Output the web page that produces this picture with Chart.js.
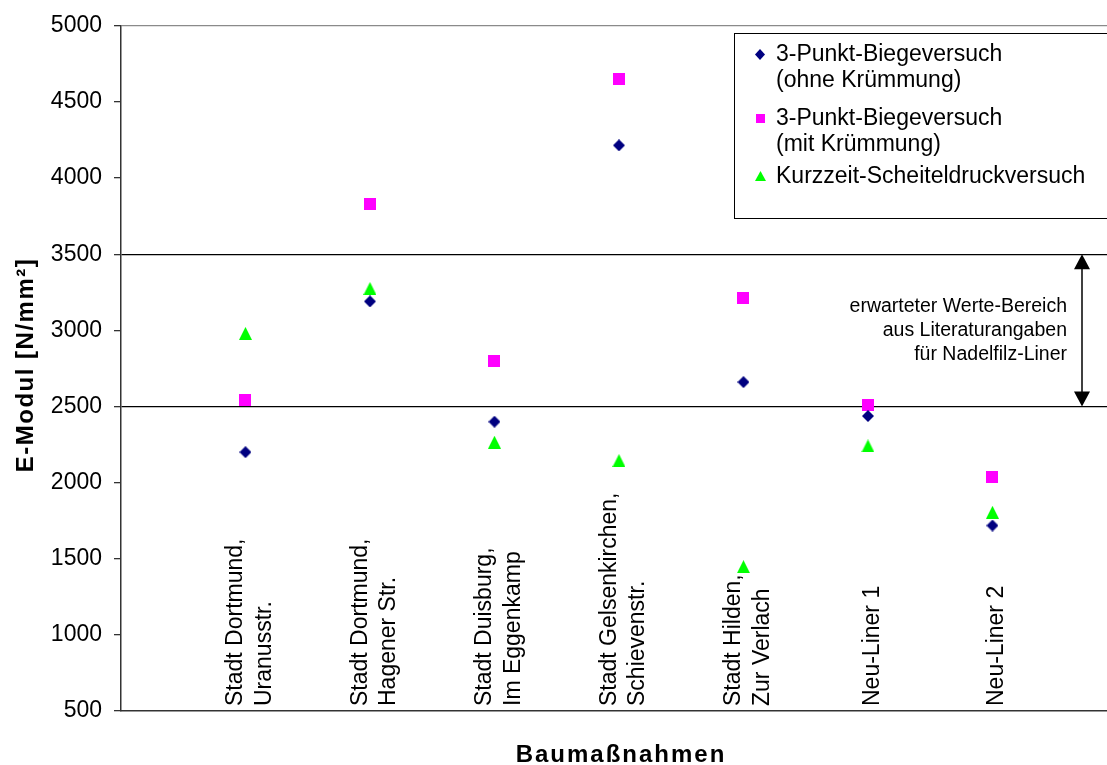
<!DOCTYPE html>
<html>
<head>
<meta charset="utf-8">
<script src="https://cdn.jsdelivr.net/npm/chart.js@4"></script>
<style>
  html, body { margin: 0; padding: 0; background: #fff; overflow: hidden; }
  canvas { display: block; }
</style>
</head>
<body>
<canvas id="chart" width="1107" height="765"></canvas>
<script>
// Construction sites (Baumaßnahmen), each label split into lines
const categories = [
  ['Stadt Dortmund,', 'Uranusstr.'],
  ['Stadt Dortmund,', 'Hagener Str.'],
  ['Stadt Duisburg,', 'Im Eggenkamp'],
  ['Stadt Gelsenkirchen,', 'Schievenstr.'],
  ['Stadt Hilden,', 'Zur Verlach'],
  ['Neu-Liner 1'],
  ['Neu-Liner 2']
];

// Series names (legend, multi-line)
const seriesNames = [
  ['3-Punkt-Biegeversuch', '(ohne Krümmung)'],
  ['3-Punkt-Biegeversuch', '(mit Krümmung)'],
  ['Kurzzeit-Scheiteldruckversuch']
];

// E-Modul values in N/mm²
const biegeOhneKruemmung = [2200, 3190, 2400, 4215, 2660, 2437, 1718];
const biegeMitKruemmung  = [2540, 3830, 2800, 4650, 3210, 2512, 2037];
const scheiteldruck      = [2980, 3275, 2265, 2145, 1448, 2241, 1805];

// Value axis
const yMin = 500;
const yMax = 5000;
const yStep = 500;

// Expected range from literature for needle-felt liners
const expectedRange = [2500, 3500];
const rangeNote = ['erwarteter Werte-Bereich', 'aus Literaturangaben', 'für Nadelfilz-Liner'];

const xTitle = 'Baumaßnahmen';
const yTitle = 'E-Modul [N/mm²]';

const FONT = '"Liberation Sans", Arial, Helvetica, sans-serif';

// Marker images, centred on their bounding box
function marker(shape, color, w, h) {
  const c = document.createElement('canvas');
  c.width = w; c.height = h;
  const g = c.getContext('2d');
  g.fillStyle = color;
  g.beginPath();
  if (shape === 'diamond') {
    g.moveTo(w / 2, 0); g.lineTo(w, h / 2); g.lineTo(w / 2, h); g.lineTo(0, h / 2);
  } else if (shape === 'square') {
    g.rect(0, 0, w, h);
  } else {
    g.moveTo(w / 2, 0); g.lineTo(w, h); g.lineTo(0, h);
  }
  g.closePath();
  g.fill();
  return c;
}

const NAVY = '#000080', MAGENTA = '#FF00FF', GREEN = '#00FF00';
const plotMarkers = [
  marker('diamond', NAVY, 12, 12),
  marker('square', MAGENTA, 12, 12),
  marker('triangle', GREEN, 13, 13)
];
const legendMarkers = [
  marker('diamond', NAVY, 10, 11),
  marker('square', MAGENTA, 9, 9),
  marker('triangle', GREEN, 11, 10)
];

const seriesValues = [biegeOhneKruemmung, biegeMitKruemmung, scheiteldruck];
const datasets = seriesValues.map((vals, s) => ({
  label: seriesNames[s].join(' '),
  data: vals.map((v, i) => ({ x: i + 1, y: v })),
  pointStyle: plotMarkers[s],
  pointRadius: 6,
  pointHoverRadius: 6,
  showLine: false,
  backgroundColor: [NAVY, MAGENTA, GREEN][s],
  borderColor: [NAVY, MAGENTA, GREEN][s]
}));

function gridColor(value) {
  if (expectedRange.includes(value)) return '#000';
  if (value === yMax) return '#8a8a8a';
  return 'rgba(0,0,0,0)';
}

const decorations = {
  id: 'decorations',
  beforeDatasetsDraw(chart) {
    const { ctx, scales: { x, y } } = chart;
    ctx.save();
    ctx.fillStyle = '#000';

    // vertical category labels standing on the x axis
    ctx.font = '23px ' + FONT;
    ctx.textAlign = 'left';
    ctx.textBaseline = 'alphabetic';
    const pitch = 28.3;
    categories.forEach((lines, i) => {
      const cx = x.getPixelForValue(i + 1);
      ctx.save();
      ctx.translate(cx, chart.chartArea.bottom - 5);
      ctx.rotate(-Math.PI / 2);
      lines.forEach((t, j) => {
        ctx.fillText(t, 0, 11 + (j - (lines.length - 1) / 2) * pitch);
      });
      ctx.restore();
    });

    // double arrow marking the expected range
    const top = y.getPixelForValue(expectedRange[1]);
    const bot = y.getPixelForValue(expectedRange[0]);
    const ax = 1082;
    const headH = 15, headW = 8;
    ctx.strokeStyle = '#000';
    ctx.lineWidth = 1.5;
    ctx.beginPath();
    ctx.moveTo(ax, top + headH - 1);
    ctx.lineTo(ax, bot - headH + 1);
    ctx.stroke();
    ctx.beginPath();
    ctx.moveTo(ax, top); ctx.lineTo(ax + headW, top + headH); ctx.lineTo(ax - headW, top + headH);
    ctx.closePath(); ctx.fill();
    ctx.beginPath();
    ctx.moveTo(ax, bot); ctx.lineTo(ax + headW, bot - headH); ctx.lineTo(ax - headW, bot - headH);
    ctx.closePath(); ctx.fill();

    const mid = (top + bot) / 2;
    ctx.font = '19.5px ' + FONT;
    ctx.textAlign = 'right';
    rangeNote.forEach((t, j) => ctx.fillText(t, 1067, mid - 18 + j * 24));
    ctx.restore();
  },
  afterDraw(chart) {
    const { ctx } = chart;
    ctx.save();

    // legend box
    ctx.fillStyle = '#fff';
    ctx.fillRect(734.5, 33.5, 400, 185);
    ctx.strokeStyle = '#000';
    ctx.lineWidth = 1;
    ctx.strokeRect(734.5, 33.5, 400, 185);
    ctx.fillStyle = '#000';
    ctx.font = '23px ' + FONT;
    ctx.textAlign = 'left';
    ctx.textBaseline = 'alphabetic';
    const entryBaselines = [61, 125, 183];
    seriesNames.forEach((lines, s) => {
      const b = entryBaselines[s];
      const m = legendMarkers[s];
      ctx.drawImage(m, Math.round(760 - m.width / 2), Math.round(b - 7 - m.height / 2));
      lines.forEach((t, j) => ctx.fillText(t, 776, b + j * 25.5));
    });

    // axis titles
    ctx.font = 'bold 24px ' + FONT;
    if ('letterSpacing' in ctx) ctx.letterSpacing = '2px';
    ctx.textAlign = 'center';
    ctx.fillText(xTitle, 621, 762);
    if ('letterSpacing' in ctx) ctx.letterSpacing = '1.5px';
    ctx.translate(33, 365);
    ctx.rotate(-Math.PI / 2);
    ctx.fillText(yTitle, 0, 0);
    ctx.restore();
  }
};

new Chart(document.getElementById('chart'), {
  type: 'scatter',
  data: { datasets },
  options: {
    responsive: false,
    animation: false,
    events: [],
    layout: { autoPadding: false, padding: { top: 24, left: 0, right: 0, bottom: 0 } },
    plugins: { legend: { display: false }, tooltip: { enabled: false } },
    scales: {
      x: {
        type: 'linear',
        min: 0,
        max: 7.92,
        afterFit(axis) { axis.height = 54; },
        ticks: { display: false },
        grid: { display: false },
        border: { display: true, color: '#333', width: 1.5 }
      },
      y: {
        type: 'linear',
        min: yMin,
        max: yMax,
        afterFit(axis) { axis.width = 121; },
        ticks: {
          stepSize: yStep,
          color: '#000',
          padding: 12,
          font: { family: FONT, size: 23 },
          callback: (v) => String(v)
        },
        grid: {
          drawOnChartArea: true,
          color: (c) => gridColor(c.tick && c.tick.value),
          lineWidth: 1.3,
          tickColor: '#333',
          tickLength: 7,
          tickWidth: 1.3
        },
        border: { display: true, color: '#333', width: 1.5 }
      }
    }
  },
  plugins: [decorations]
});
</script>
</body>
</html>
